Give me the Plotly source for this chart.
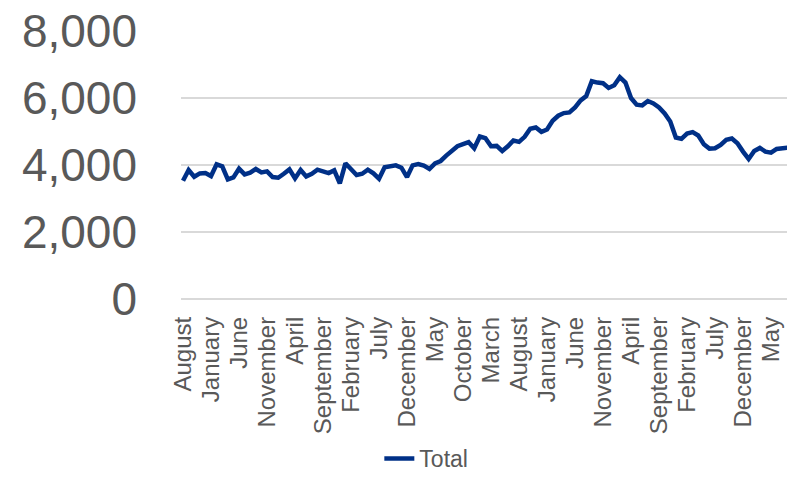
import plotly.graph_objects as go

# Monthly totals, starting in August
month_names = ["January", "February", "March", "April", "May", "June",
               "July", "August", "September", "October", "November", "December"]
start_month = 7  # August (0-based)

totals = [
    3530, 3850, 3650, 3750, 3760, 3670, 4020, 3960, 3570, 3630,
    3890, 3720, 3770, 3880, 3780, 3810, 3640, 3620, 3740, 3870,
    3600, 3850, 3660, 3740, 3860, 3810, 3760, 3840, 3450, 4050,
    3880, 3700, 3740, 3860, 3750, 3590, 3930, 3960, 3990, 3920,
    3640, 3990, 4030, 3980, 3880, 4050, 4120, 4280, 4400, 4560,
    4620, 4680, 4500, 4850, 4800, 4560, 4570, 4420, 4560, 4730,
    4690, 4840, 5080, 5120, 4990, 5060, 5320, 5470, 5550, 5570,
    5720, 5930, 6060, 6500, 6460, 6440, 6300, 6380, 6620, 6460,
    6000, 5800, 5780, 5910, 5840, 5720, 5540, 5300, 4820, 4780,
    4940, 4980, 4880, 4620, 4490, 4500, 4600, 4750, 4790, 4650,
    4400, 4180, 4420, 4510, 4400, 4370, 4480, 4500, 4520,
]

months = [month_names[(start_month + i) % 12] for i in range(len(totals))]
positions = list(range(len(totals)))

# Category labels shown every fifth month
label_step = 5
tick_positions = positions[::label_step]
tick_labels = months[::label_step]

y_ticks = [0, 2000, 4000, 6000, 8000]

fig = go.Figure()
fig.add_trace(go.Scatter(
    x=positions, y=totals, mode="lines", name="Total",
    line=dict(color="#003087", width=4.5, shape="linear"),
))

fig.update_layout(
    width=787, height=480,
    margin=dict(l=181, r=0, t=31, b=181, autoexpand=False),
    plot_bgcolor="white", paper_bgcolor="white",
    font=dict(family="Liberation Sans, Arial, sans-serif", color="#595959"),
    showlegend=True,
    legend=dict(orientation="h", xref="container", yref="container",
                x=0.482, xanchor="left", y=-0.012, yanchor="bottom",
                bgcolor="rgba(0,0,0,0)",
                font=dict(size=23, color="#595959")),
)
fig.update_xaxes(
    range=[-0.36, 107.85], automargin=False,
    tickmode="array", tickvals=tick_positions, ticktext=tick_labels,
    tickangle=-90, tickfont=dict(size=24, color="#595959"),
    showgrid=False, zeroline=False, showline=False, ticks="",
    ticklabelstandoff=12,
)
fig.update_yaxes(
    range=[0, 8000], automargin=False,
    tickmode="array", tickvals=y_ticks, tickformat=",",
    tickfont=dict(size=46, color="#595959"),
    showgrid=True, gridcolor="#d9d9d9", gridwidth=1.5,
    zeroline=True, zerolinecolor="#d9d9d9", zerolinewidth=1.5,
    showline=False, ticks="", ticklabelstandoff=43,
)

fig.write_html("out.html")
